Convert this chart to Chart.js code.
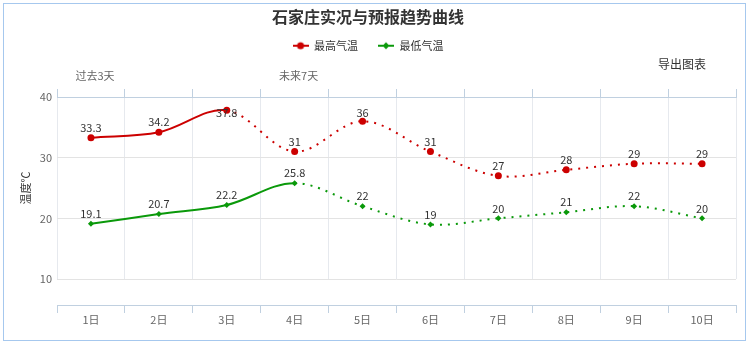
<!DOCTYPE html>
<html>
<head>
<meta charset="utf-8">
<script src="https://cdn.jsdelivr.net/npm/chart.js@4.4.0/dist/chart.umd.min.js"></script>
<style>
  html, body { margin: 0; padding: 0; background: #fff; }
  #wrap { position: relative; width: 750px; height: 342px; }
  #frame { position: absolute; left: 3px; top: 3px; width: 741px; height: 336px; border: 1px solid #a6c8ee; pointer-events: none; }
  #export { position: absolute; left: 658px; top: 55px; font: 12px "Noto Sans CJK SC", sans-serif; color: #333; }
</style>
</head>
<body>
<div id="wrap">
  <canvas id="chart" width="750" height="342"></canvas>
  <div id="frame"></div>
  <div id="export">导出图表</div>
</div>
<script>
const days = ["1日", "2日", "3日", "4日", "5日", "6日", "7日", "8日", "9日", "10日"];
const periodLabels = ["过去3天", "", "", "未来7天", "", "", "", "", "", ""];
const maxTemp = [33.3, 34.2, 37.8, 31, 36, 31, 27, 28, 29, 29];
const minTemp = [19.1, 20.7, 22.2, 25.8, 22, 19, 20, 21, 22, 20];
const yTicks = [10, 20, 30, 40];

const FONT = '"Noto Sans CJK SC", "Noto Sans", sans-serif';
const RED = "#cc0000";
const GREEN = "#0a990a";
const AXIS = "#c0d0e0";

function legendMark(color, shape) {
  const c = document.createElement("canvas");
  c.width = 16;
  c.height = 10;
  const g = c.getContext("2d");
  g.strokeStyle = color;
  g.lineWidth = 2;
  g.beginPath();
  g.moveTo(0, 5);
  g.lineTo(16, 5);
  g.stroke();
  g.fillStyle = color;
  g.beginPath();
  if (shape === "circle") {
    g.arc(8, 5, 3.5, 0, Math.PI * 2);
  } else {
    g.moveTo(8, 1.5); g.lineTo(11.5, 5); g.lineTo(8, 8.5); g.lineTo(4.5, 5); g.closePath();
  }
  g.fill();
  return c;
}

// value labels above each point, kept inside the plot
const valueLabels = {
  id: "valueLabels",
  afterDatasetsDraw(chart) {
    const ctx = chart.ctx;
    const top = chart.chartArea.top;
    ctx.save();
    ctx.font = "11px " + FONT;
    ctx.fillStyle = "#333";
    ctx.textAlign = "center";
    ctx.textBaseline = "middle";
    chart.data.datasets.forEach((ds, i) => {
      chart.getDatasetMeta(i).data.forEach((pt, j) => {
        const y = Math.max(pt.y - 10, top + 16);
        ctx.fillText(String(ds.data[j]), pt.x, y);
      });
    });
    ctx.restore();
  }
};

const ctx = document.getElementById("chart").getContext("2d");

new Chart(ctx, {
  type: "line",
  data: {
    labels: days,
    datasets: [
      {
        label: "最高气温",
        data: maxTemp,
        borderColor: RED,
        backgroundColor: RED,
        borderWidth: 2,
        pointStyle: "circle",
        pointRadius: 3.5,
        pointBorderWidth: 0,
        tension: 0.35,
        segment: { borderDash: (c) => (c.p0DataIndex >= 2 ? [2, 6] : undefined) },
        legendMark: legendMark(RED, "circle"),
      },
      {
        label: "最低气温",
        data: minTemp,
        borderColor: GREEN,
        backgroundColor: GREEN,
        borderWidth: 2,
        pointStyle: "rectRot",
        pointRadius: 3,
        pointBorderWidth: 0,
        tension: 0.35,
        segment: { borderDash: (c) => (c.p0DataIndex >= 3 ? [2, 6] : undefined) },
        legendMark: legendMark(GREEN, "diamond"),
      },
    ],
  },
  options: {
    responsive: false,
    animation: false,
    layout: { padding: { left: 0, right: 14, top: 0, bottom: 0 } },
    plugins: {
      title: {
        display: true,
        text: "石家庄实况与预报趋势曲线",
        color: "#333",
        font: { family: FONT, size: 16, weight: "bold" },
        padding: { top: 7, bottom: -6 },
      },
      legend: {
        labels: {
          font: { family: FONT, size: 11 },
          color: "#333",
          usePointStyle: true,
          pointStyleWidth: 16,
          padding: 20,
          generateLabels: (chart) =>
            chart.data.datasets.map((ds, i) => ({
              text: ds.label,
              fillStyle: ds.borderColor,
              strokeStyle: ds.borderColor,
              fontColor: "#333",
              pointStyle: ds.legendMark,
              datasetIndex: i,
              hidden: false,
            })),
        },
      },
      tooltip: { enabled: false },
    },
    scales: {
      x: {
        type: "category",
        position: "bottom",
        offset: true,
        weight: 0,
        grid: { offset: true, color: "#e6e9ee", drawTicks: false },
        border: { display: false },
        ticks: { display: false },
        afterFit: (s) => { s.height = 26; },
      },
      xLabels: {
        type: "category",
        position: "bottom",
        offset: true,
        weight: 1,
        grid: { offset: true, drawOnChartArea: false, color: AXIS, tickLength: 8 },
        border: { color: AXIS },
        ticks: { color: "#666", font: { family: FONT, size: 11 }, padding: 0 },
        afterFit: (s) => { s.height = 37; },
      },
      xTop: {
        type: "category",
        position: "top",
        offset: true,
        weight: 0,
        grid: { offset: true, drawOnChartArea: false, color: AXIS, tickLength: 8 },
        border: { color: AXIS },
        ticks: {
          color: "#666",
          font: { family: FONT, size: 11 },
          padding: 7,
          labelOffset: 4,
          callback: (v, i) => periodLabels[i],
        },
        afterFit: (s) => { s.height = 35.8; },
      },
      y: {
        min: 10,
        max: 40,
        afterBuildTicks: (s) => { s.ticks = yTicks.map((v) => ({ value: v })); },
        grid: { color: "#e3e3e3", drawTicks: false },
        border: { display: false },
        ticks: { color: "#666", font: { family: FONT, size: 11 }, padding: 5 },
        title: {
          display: true,
          text: "温度℃",
          color: "#333",
          font: { family: FONT, size: 11 },
          padding: { top: 19, bottom: 0 },
        },
        afterFit: (s) => { s.width = 57; },
      },
    },
  },
  plugins: [valueLabels],
});
</script>
</body>
</html>
